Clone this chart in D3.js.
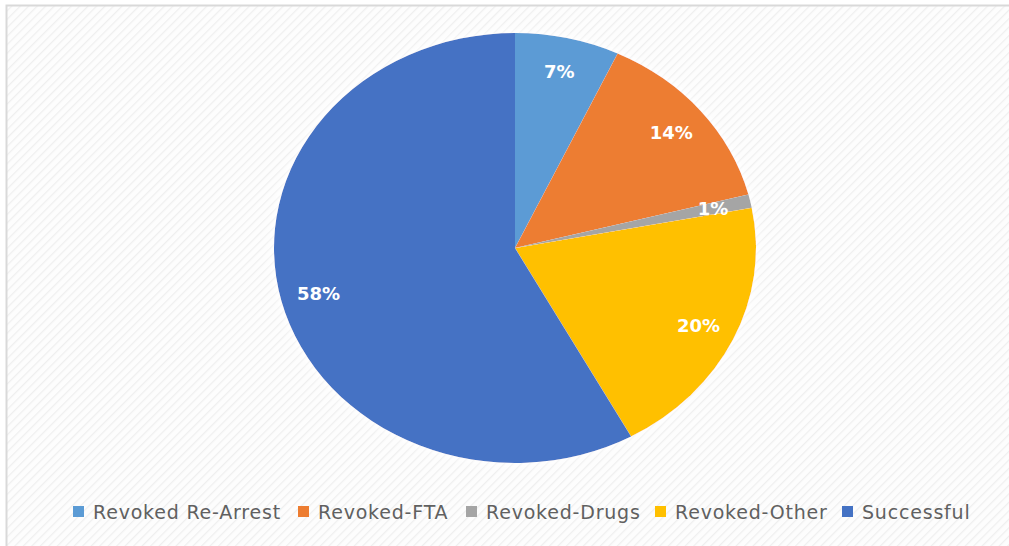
<!DOCTYPE html>
<html><head><meta charset="utf-8">
<script src="https://cdn.jsdelivr.net/npm/d3@7"></script>
<style>html,body{margin:0;padding:0;background:#fff;}svg{display:block;}</style>
</head><body>
<svg id="chart" width="1009" height="546"></svg>
<script>
const categories = ["Revoked Re-Arrest","Revoked-FTA","Revoked-Drugs","Revoked-Other","Successful"];
const values = [7,14,1,20,58];
const labels = ["7%","14%","1%","20%","58%"];
const colors = ["#5B9BD5","#ED7D31","#A5A5A5","#FFC000","#4472C4"];

const svg = d3.select("#chart");
const W = 1009, H = 546;
const defs = svg.append("defs");
const pat = defs.append("pattern").attr("id","hatch").attr("patternUnits","userSpaceOnUse")
  .attr("width",6).attr("height",6).attr("patternTransform","rotate(45)");
pat.append("rect").attr("width",6).attr("height",6).attr("fill","#fdfdfd");
pat.append("line").attr("x1",0).attr("y1",0).attr("x2",0).attr("y2",6).attr("stroke","#efefef").attr("stroke-width",2.5);
const flt = defs.append("filter").attr("id","shadow").attr("x","-20%").attr("y","-20%").attr("width","140%").attr("height","140%");
flt.append("feGaussianBlur").attr("in","SourceAlpha").attr("stdDeviation",6).attr("result","b");
flt.append("feFlood").attr("flood-color","#ffffff").attr("result","c");
flt.append("feComposite").attr("in","c").attr("in2","b").attr("operator","in").attr("result","s");
const m = flt.append("feMerge");
m.append("feMergeNode").attr("in","s");
m.append("feMergeNode").attr("in","SourceGraphic");

svg.append("rect").attr("x",0).attr("y",0).attr("width",W).attr("height",H).attr("fill","#fff");
svg.append("rect").attr("x",6.5).attr("y",5.5).attr("width",W).attr("height",H)
  .attr("fill","url(#hatch)").attr("stroke","#d9d9d9").attr("stroke-width",2);

const cx = 515, cy = 248, ry = 215, rx = 241;
const sx = rx/ry;
const pie = d3.pie().sort(null).value(d=>d)(values);
const arc = d3.arc().innerRadius(0).outerRadius(ry);
const labelArc = d3.arc().innerRadius(181).outerRadius(181);

const g = svg.append("g").attr("transform",`translate(${cx},${cy}) scale(${sx},1)`).attr("filter","url(#shadow)");
g.selectAll("path").data(pie).join("path")
  .attr("d",arc).attr("fill",(d,i)=>colors[i]);

const lg = svg.append("g").attr("transform",`translate(${cx},${cy})`);
lg.selectAll("text").data(pie).join("text")
  .attr("x",d=>labelArc.centroid(d)[0]*sx)
  .attr("y",d=>labelArc.centroid(d)[1])
  .attr("text-anchor","middle").attr("dominant-baseline","central")
  .attr("fill","#fff").attr("font-family","'DejaVu Sans', sans-serif")
  .attr("font-weight","bold").attr("font-size",18)
  .text((d,i)=>labels[i]);

// legend
const leg = svg.append("g").attr("font-family","'DejaVu Sans', sans-serif").attr("font-size",19)
  .attr("letter-spacing",0.8).attr("fill","#606060");
const legX = [73, 298, 466, 655, 842];
categories.forEach((c,i)=>{
  leg.append("rect").attr("x",legX[i]).attr("y",506).attr("width",11).attr("height",11).attr("fill",colors[i]);
  leg.append("text").attr("x",legX[i]+20).attr("y",512).attr("dominant-baseline","central").text(c);
});
</script>
</body></html>
